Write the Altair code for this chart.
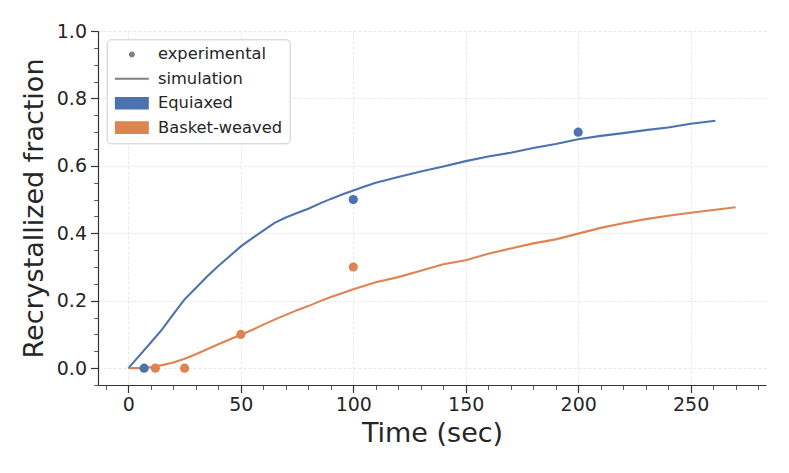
import altair as alt
import pandas as pd

# Simulation curves
sim_t_eq = [0, 5, 10, 15, 20, 25, 30, 35, 40, 45, 50, 55, 60, 65, 70, 75, 80, 85, 90, 95, 100,
            105, 110, 120, 130, 140, 150, 160, 170, 180, 190, 200, 210, 220, 230, 240, 250, 261]
sim_f_eq = [0.0, 0.038, 0.076, 0.115, 0.160, 0.204, 0.238, 0.272, 0.303, 0.332, 0.361, 0.385,
            0.408, 0.431, 0.447, 0.460, 0.473, 0.488, 0.502, 0.515, 0.527,
            0.539, 0.550, 0.567, 0.583, 0.598, 0.614, 0.628, 0.639, 0.653, 0.665, 0.679, 0.689,
            0.697, 0.706, 0.714, 0.725, 0.734]
sim_t_bw = [0, 5, 10, 15, 20, 25, 30, 35, 40, 45, 50, 55, 60, 65, 70, 75, 80, 85, 90, 95, 100,
            110, 120, 130, 140, 150, 160, 170, 180, 190, 200, 210, 220, 230, 240, 250, 260, 270]
sim_f_bw = [0.0, 0.0, 0.003, 0.009, 0.017, 0.028, 0.041, 0.056, 0.071, 0.085, 0.099, 0.113,
            0.129, 0.144, 0.158, 0.172, 0.184, 0.198, 0.211, 0.222, 0.234,
            0.255, 0.270, 0.289, 0.308, 0.320, 0.339, 0.355, 0.370, 0.382, 0.399, 0.416,
            0.430, 0.442, 0.452, 0.461, 0.469, 0.477]

# Experimental points
exp_t_eq = [7, 100, 200]
exp_f_eq = [0.0, 0.5, 0.7]
exp_t_bw = [12, 25, 50, 100]
exp_f_bw = [0.0, 0.0, 0.1, 0.3]

series_names = ["Equiaxed", "Basket-weaved"]
series_colors = ["#4C72B0", "#DD8452"]
legend_labels = ["experimental", "simulation", "Equiaxed", "Basket-weaved"]
legend_colors = ["#808080", "#808080", "#4C72B0", "#DD8452"]

x_major = [0, 50, 100, 150, 200, 250]
x_minor = [-10, 10, 20, 30, 40, 60, 70, 80, 90, 110, 120, 130, 140, 160, 170, 180, 190,
           210, 220, 230, 240, 260, 270, 280]
y_major = [0.0, 0.2, 0.4, 0.6, 0.8, 1.0]
y_minor = [-0.05, 0.05, 0.1, 0.15, 0.25, 0.3, 0.35, 0.45, 0.5, 0.55, 0.65, 0.7, 0.75,
           0.85, 0.9, 0.95]

sim = pd.concat([
    pd.DataFrame({"t": sim_t_eq, "f": sim_f_eq, "series": series_names[0]}),
    pd.DataFrame({"t": sim_t_bw, "f": sim_f_bw, "series": series_names[1]}),
])
exp = pd.concat([
    pd.DataFrame({"t": exp_t_eq, "f": exp_f_eq, "series": series_names[0]}),
    pd.DataFrame({"t": exp_t_bw, "f": exp_f_bw, "series": series_names[1]}),
])
leg = pd.DataFrame({"series": legend_labels})

xscale = alt.Scale(domain=[-13.5, 283.5], nice=False, zero=False)
yscale = alt.Scale(domain=[-0.05, 1.0], nice=False, zero=False)
series_scale = alt.Scale(domain=series_names, range=series_colors)
cscale = alt.Scale(domain=legend_labels, range=legend_colors)

shape_paths = [
    "M0.5,0A0.5,0.5,0,1,1,-0.5,0A0.5,0.5,0,1,1,0.5,0Z",
    "M-2.83,-0.17H2.83V0.17H-2.83Z",
    "M-2.83,-1.05H2.83V1.05H-2.83Z",
    "M-2.83,-1.05H2.83V1.05H-2.83Z",
]
sscale = alt.Scale(domain=legend_labels, range=shape_paths)

TXT = "#262626"
LINE = "#333333"

x_major_axis = alt.Axis(values=x_major, title="Time (sec)", grid=True, gridDash=[3, 2],
                        gridColor="#e8e8e8", gridWidth=1, tickSize=7.5, tickWidth=1.2,
                        tickColor=LINE, domainColor=LINE, domainWidth=1.2,
                        labelFontSize=19, labelColor=TXT, labelPadding=3,
                        titleFontSize=27, titleFontWeight="normal", titleColor=TXT,
                        titlePadding=6, orient="bottom", labelFlush=False)
y_major_axis = alt.Axis(values=y_major, title="Recrystallized fraction", grid=True,
                        gridDash=[3, 2], gridColor="#e8e8e8", gridWidth=1, format=".1f",
                        tickSize=7.5, tickWidth=1.2, tickColor=LINE, domainColor=LINE,
                        domainWidth=1.2, labelFontSize=19, labelColor=TXT, labelPadding=4,
                        titleFontSize=27, titleFontWeight="normal", titleColor=TXT,
                        titlePadding=8, orient="left", labelFlush=False)
x_minor_axis = alt.Axis(values=x_minor, title=None, labels=False, grid=False, domain=False,
                        tickSize=4.3, tickWidth=1, tickColor="#555555", orient="bottom")
y_minor_axis = alt.Axis(values=y_minor, title=None, labels=False, grid=False, domain=False,
                        tickSize=4.3, tickWidth=1, tickColor="#555555", orient="left")

lines = alt.Chart(sim).mark_line(strokeWidth=2.1).encode(
    x=alt.X("t:Q", scale=xscale, axis=x_major_axis),
    y=alt.Y("f:Q", scale=yscale, axis=y_major_axis),
    stroke=alt.Stroke("series:N", scale=series_scale, legend=None),
    detail="series:N",
)

points = alt.Chart(exp).mark_circle(size=85, opacity=1, strokeWidth=0).encode(
    x=alt.X("t:Q", scale=xscale, axis=x_minor_axis),
    y=alt.Y("f:Q", scale=yscale, axis=y_minor_axis),
    fill=alt.Fill("series:N", scale=series_scale, legend=None),
)

leg_props = dict(
    title=None, orient="none", legendX=8.7, legendY=8.3,
    symbolSize=144, symbolOpacity=1, symbolStrokeWidth=0,
    symbolOffset=10, labelOffset=18, labelFontSize=16.3, labelColor=TXT,
    rowPadding=7.4, padding=7, fillColor="#ffffff", strokeColor="#cccccc",
    cornerRadius=4,
)

legend_layer = alt.Chart(leg).mark_point(filled=True, opacity=0).encode(
    color=alt.Color("series:N", scale=cscale, legend=alt.Legend(**leg_props)),
    shape=alt.Shape("series:N", scale=sscale, legend=alt.Legend(**leg_props)),
)

chart = alt.layer(lines, points, legend_layer).resolve_axis(
    x="independent", y="independent"
).properties(
    width=668, height=354,
    autosize=alt.AutoSizeParams(type="none"),
    padding={"left": 90, "top": 23, "right": 15, "bottom": 66},
).configure(font="DejaVu Sans").configure_view(stroke=None)

chart.save("out.html", embed_options={"renderer": "svg", "actions": False})
